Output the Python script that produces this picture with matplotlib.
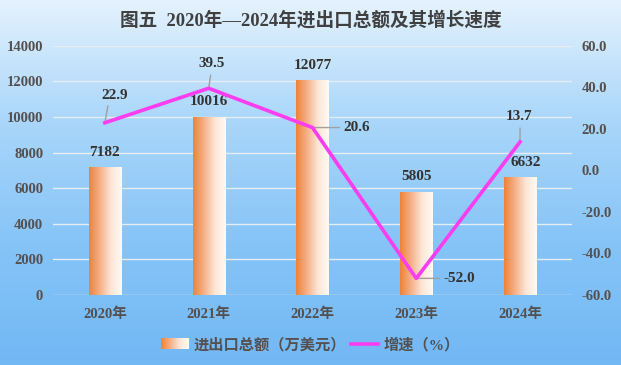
import matplotlib
matplotlib.use('Agg')
import matplotlib.pyplot as plt
import numpy as np
from matplotlib.colors import LinearSegmentedColormap
from matplotlib.legend_handler import HandlerBase
from matplotlib.image import BboxImage
from matplotlib.transforms import Bbox, TransformedBbox
from matplotlib.lines import Line2D
from matplotlib.patches import Rectangle

# 数据
years = ['2020年', '2021年', '2022年', '2023年', '2024年']
trade = [7182, 10016, 12077, 5805, 6632]
growth = [22.9, 39.5, 20.6, -52.0, 13.7]

FONT = ['Liberation Serif', 'Noto Sans CJK SC', 'DejaVu Sans']
plt.rcParams['font.family'] = FONT
plt.rcParams['font.weight'] = 'bold'

bar_cmap = LinearSegmentedColormap.from_list('bar', ['#ee8236', '#f5b088', '#fde6d6', '#fffaf5'])
bg_cmap = LinearSegmentedColormap.from_list('bg', ['#e4f2fd', '#a9d6fa', '#86c4f7', '#72b8f5'])
grad = np.linspace(0, 1, 256).reshape(1, -1)

fig = plt.figure(figsize=(6.21, 3.65), dpi=100)

# 背景渐变
bg = fig.add_axes([0, 0, 1, 1], zorder=-10)
bg.imshow(np.linspace(0, 1, 256).reshape(-1, 1), cmap=bg_cmap, aspect='auto', extent=[0, 1, 0, 1])
bg.axis('off')

ax = fig.add_axes([0.0853, 0.1918, 0.8357, 0.683])
ax.patch.set_alpha(0)
x = np.arange(len(years))
bars = ax.bar(x, trade, width=0.31, color='none', zorder=2)
for b in bars:
    x0, y0 = b.get_x(), b.get_y()
    w, h = b.get_width(), b.get_height()
    im = ax.imshow(grad, cmap=bar_cmap, aspect='auto', extent=[x0, x0 + w, y0, y0 + h], zorder=2)
    im.set_clip_path(b)

ax.set_xlim(-0.5, 4.5)
ax.set_ylim(0, 14000)
ax.set_yticks(np.arange(0, 14001, 2000))
ax.set_xticks(x)
ax.set_xticklabels(years)
ax.grid(axis='y', color='#e6edf3', linewidth=1)
ax.set_axisbelow(True)
for s in ax.spines.values():
    s.set_visible(False)
ax.tick_params(length=0, labelsize=10.5, labelcolor='#555050')
ax.tick_params(axis='y', pad=7)
ax.tick_params(axis='x', pad=9)

bar_dx = [0, 0, 0, 0, 4]
for xi, v, dx in zip(x, trade, bar_dx):
    ax.annotate(f'{v}', (xi, v), xytext=(dx, 6), textcoords='offset points',
                ha='center', va='bottom', fontsize=11, color='#333333', fontweight='bold')

ax2 = ax.twinx()
ax2.set_ylim(-60, 60)
ax2.set_yticks(np.arange(-60, 61, 20))
ax2.set_yticklabels([f'{t:.1f}' for t in np.arange(-60, 61, 20)])
for s in ax2.spines.values():
    s.set_visible(False)
ax2.tick_params(length=0, labelsize=10.5, labelcolor='#555050', pad=7)
ax2.plot(x, growth, color='#fb3cf0', linewidth=2.6, zorder=5)

# 增速标签及引线（偏移单位：磅）
lead_end = [(2.2, 12.2), (1.4, 9.4), (19.4, 0), (16.6, 0), (0, 10)]
label_pos = [(7.2, 19.4), (2.2, 18), (22.3, 0), (19.4, 0), (-0.7, 18)]
for xi, v, le, lp in zip(x, growth, lead_end, label_pos):
    ax2.annotate('', (xi, v), xytext=le, textcoords='offset points',
                 arrowprops=dict(arrowstyle='-', color='#a0a0a0', lw=1, shrinkA=0, shrinkB=0),
                 zorder=4)
    side = lp[0] > 15
    ax2.annotate(f'{v:.1f}', (xi, v), xytext=lp, textcoords='offset points',
                 ha='left' if side else 'center', va='center',
                 fontsize=11, color='#333333', fontweight='bold')

fig.text(0.5, 0.945, '图五  2020年—2024年进出口总额及其增长速度', ha='center', va='center',
         fontsize=13.4, color='#404040', fontweight='bold')


class GradHandler(HandlerBase):
    def create_artists(self, legend, orig_handle, xdescent, ydescent, width, height, fontsize, trans):
        bb = Bbox.from_bounds(-xdescent, -ydescent, width, height)
        img = BboxImage(TransformedBbox(bb, trans), cmap=bar_cmap, interpolation='bicubic')
        img.set_data(grad)
        return [img]


h1 = Rectangle((0, 0), 1, 1)
h2 = Line2D([], [], color='#fb3cf0', linewidth=2.6)
leg = fig.legend([h1, h2], ['进出口总额（万美元）', '增速（%）'], loc='center',
                 bbox_to_anchor=(0.5, 0.055), ncol=2, frameon=False,
                 handler_map={Rectangle: GradHandler()}, handlelength=1.8,
                 handletextpad=0.35, columnspacing=0.3,
                 prop={'size': 11, 'weight': 'bold', 'family': FONT})
for t in leg.get_texts():
    t.set_color('#555050')

fig.savefig('out.png', dpi=100)
